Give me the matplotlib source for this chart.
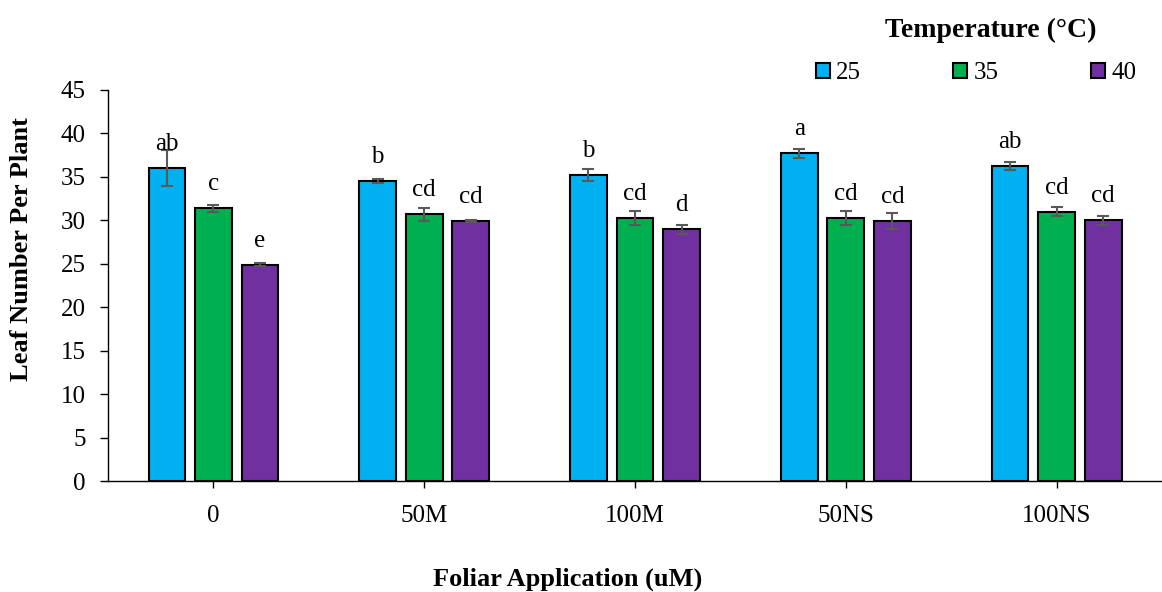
import numpy as np
import matplotlib.pyplot as plt
from matplotlib.patches import Patch

plt.rcParams['font.family'] = ['Liberation Serif', 'DejaVu Serif']

categories = ["0", "50M", "100M", "50NS", "100NS"]
temps = ["25", "35", "40"]

mean_25 = [36.05, 34.5, 35.2, 37.7, 36.25]
mean_35 = [31.4, 30.7, 30.3, 30.3, 31.0]
mean_40 = [24.9, 29.9, 28.95, 29.9, 30.0]

err_25 = [2.05, 0.2, 0.72, 0.55, 0.5]
err_35 = [0.4, 0.75, 0.8, 0.8, 0.5]
err_40 = [0.15, 0.12, 0.5, 0.92, 0.55]

letters_25 = ["ab", "b", "b", "a", "ab"]
letters_35 = ["c", "cd", "cd", "cd", "cd"]
letters_40 = ["e", "cd", "d", "cd", "cd"]

colors = ["#00B0F0", "#00B050", "#7030A0"]

fig = plt.figure(figsize=(11.62, 5.92), dpi=100)
ax = fig.add_axes([0.093, 0.1875, 0.907, 0.6605])

x = np.arange(len(categories))
width = 0.174
pitch = 0.221

series = [(mean_25, err_25, letters_25), (mean_35, err_35, letters_35), (mean_40, err_40, letters_40)]
for i, (means, errs, letters) in enumerate(series):
    xs = x + (i - 1) * pitch
    ax.bar(xs, means, width, color=colors[i], edgecolor="black", linewidth=1.5, zorder=2)
    ax.errorbar(xs, means, yerr=errs, fmt="none", ecolor="#595959", elinewidth=1.5,
                capsize=4.3, capthick=1.5, zorder=3)
    for xi, m, lab in zip(xs, means, letters):
        ax.annotate(lab, (xi, m), xytext=(0, 13), textcoords="offset points",
                    ha="center", va="baseline", fontsize=18)

ax.set_xlim(-0.5, 4.5)
ax.set_ylim(0, 45)
ax.set_yticks(np.arange(0, 46, 5))
ax.set_xticks(x)
ax.set_xticklabels(categories)
ax.tick_params(axis="y", labelsize=18, length=6, width=1, direction="out", pad=10)
ax.tick_params(axis="x", labelsize=18, length=5, width=1, direction="out", pad=12)
for s in ["top", "right"]:
    ax.spines[s].set_visible(False)
ax.spines["left"].set_linewidth(1)
ax.spines["bottom"].set_linewidth(1)

fig.text(22 / 1162, 1 - 249 / 592, "Leaf Number Per Plant", fontsize=19, fontweight="bold",
         rotation=90, ha="center", va="center")
fig.text(568 / 1162, 1 - 579 / 592, "Foliar Application (uM)", fontsize=19, fontweight="bold",
         ha="center", va="center")
fig.text(991 / 1162, 1 - 30 / 592, "Temperature (°C)", fontsize=20, fontweight="bold",
         ha="center", va="center")

handles = [Patch(facecolor=c, edgecolor="black", linewidth=1.5) for c in colors]
fig.legend(handles, temps, ncol=3, loc="center", bbox_to_anchor=(976 / 1162, 1 - 73 / 592),
           frameon=False, fontsize=18, borderpad=0, borderaxespad=0,
           handlelength=0.56, handleheight=0.56, handletextpad=0.25, columnspacing=3.7)

fig.savefig("out.png", dpi=100)
